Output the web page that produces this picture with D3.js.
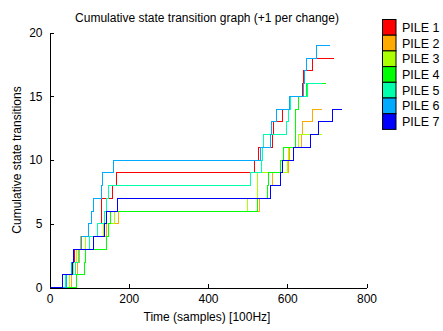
<!DOCTYPE html>
<html><head><meta charset="utf-8">
<script src="https://cdn.jsdelivr.net/npm/d3@7/dist/d3.min.js"></script>
<style>
html,body{margin:0;padding:0;background:#fff;}
svg{display:block;}
text{font-family:"Liberation Sans",Arial,sans-serif;}
</style></head>
<body>
<script>
// ---- data ----
const piles = ["PILE 1","PILE 2","PILE 3","PILE 4","PILE 5","PILE 6","PILE 7"];
const colors = ["#ff0000","#ffaa00","#aaff00","#00ff00","#00ffaa","#00aaff","#0000ff"];
// sample times at which each pile's cumulative count increments by one
const pile1Changes = [51,57,63,82,120,130,132,158,169,517,528,562,566,589,608,639,641,664];
const pile2Changes = [55,70,75,78,145,174,530,558,562,603,605,636,638,663];
const pile3Changes = [50,60,68,90,137,165,500,524,526,600,604,628];
const pile4Changes = [68,88,90,145,148,155,526,549,553,584,591,620,621,622,628,649];
const pile5Changes = [40,65,73,100,120,140,143,150,508,536,537,540,597,603,608,650];
const pile6Changes = [44,55,60,80,99,105,111,132,135,162,532,557,560,574,606,641,643,649,674];
const pile7Changes = [33,57,60,110,138,143,172,557,584,587,616,659,680,713];
const endTimes = [719,688,688,699,688,709,738];
const xTicks = [0,200,400,600,800];
const yTicks = [0,5,10,15,20];

const allChanges = [pile1Changes,pile2Changes,pile3Changes,pile4Changes,pile5Changes,pile6Changes,pile7Changes];

const W = 443, H = 331;
const svg = d3.select("body").append("svg").attr("width",W).attr("height",H);

const x = d3.scaleLinear().domain([0,800]).range([49.5,366.5]);
const y = d3.scaleLinear().domain([0,20]).range([287.5,32.5]);

// series as step points
const series = allChanges.map((ch,i)=>{
  const pts=[[0,0]];
  ch.forEach((t,k)=>pts.push([t,k+1]));
  pts.push([endTimes[i], ch.length]);
  return pts;
});

const line = d3.line().x(d=>x(d[0])).y(d=>y(d[1])).curve(d3.curveStepAfter);

svg.append("g").selectAll("path").data(series).join("path")
  .attr("d",line).attr("fill","none")
  .attr("stroke",(d,i)=>colors[i]).attr("stroke-width",1)
  .attr("shape-rendering","crispEdges");

// axes (inward ticks)
const xAxis = d3.axisBottom(x).tickValues(xTicks).tickSize(-4).tickPadding(7).tickSizeOuter(0);
const yAxis = d3.axisLeft(y).tickValues(yTicks).tickSize(-4).tickPadding(7).tickSizeOuter(0);
const gx = svg.append("g").attr("transform",`translate(0,${y(0)})`).call(xAxis);
const gy = svg.append("g").attr("transform",`translate(${x(0)},0)`).call(yAxis);
[gx,gy].forEach(g=>{
  g.selectAll("path,line").attr("stroke","#000").attr("shape-rendering","crispEdges");
  g.selectAll("text").attr("font-size",12).attr("fill","#000")
   .attr("font-family","Liberation Sans, Arial, sans-serif");
});
gx.selectAll("text").attr("dy","0.71em");

// title and axis labels
svg.append("text").attr("x",207).attr("y",22).attr("text-anchor","middle")
  .attr("font-size",12).text("Cumulative state transition graph (+1 per change)");
svg.append("text").attr("x",207).attr("y",321).attr("text-anchor","middle")
  .attr("font-size",12).text("Time (samples) [100Hz]");
svg.append("text").attr("transform","translate(21,160) rotate(-90)").attr("text-anchor","middle")
  .attr("font-size",12).text("Cumulative state transitions");

// legend
const lg = svg.append("g");
const sw = 15.7;
piles.forEach((p,i)=>{
  lg.append("rect").attr("x",382.5).attr("y",19.5+i*sw).attr("width",13.5).attr("height",sw)
    .attr("fill",colors[i]).attr("stroke","#000").attr("stroke-width",1);
  lg.append("text").attr("x",402).attr("y",19.5+i*sw+sw/2+4.5)
    .attr("font-family","Liberation Serif, Times New Roman, serif")
    .attr("font-size",12.5).text(p);
});
</script>
</body></html>
